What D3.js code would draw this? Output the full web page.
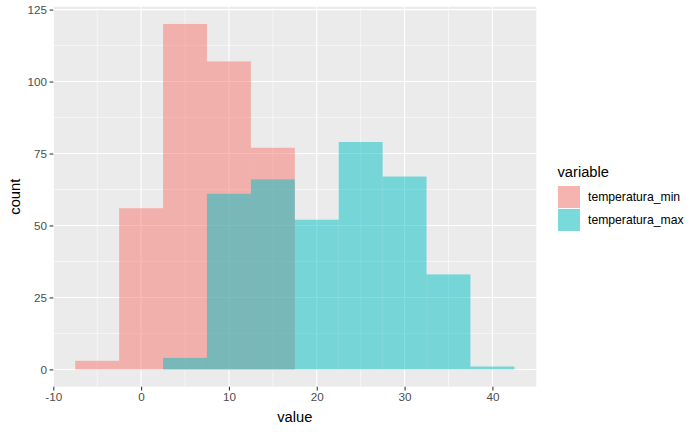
<!DOCTYPE html>
<html><head><meta charset="utf-8">
<script src="https://cdn.jsdelivr.net/npm/d3@7"></script>
<style>body{margin:0;background:#fff}svg{display:block}text{font-family:"Liberation Sans",Arial,sans-serif}</style>
</head><body>
<svg id="chart" width="700" height="432"></svg>
<script>
const minCenters = [-5, 0, 5, 10, 15];
const minCounts = [3, 56, 120, 107, 77];
const maxCenters = [5, 10, 15, 20, 25, 30, 35, 40];
const maxCounts = [4, 61, 66, 52, 79, 67, 33, 1];
const xTicks = [-10, 0, 10, 20, 30, 40];
const xMinor = [-5, 5, 15, 25, 35];
const yTicks = [0, 25, 50, 75, 100, 125];
const yMinor = [12.5, 37.5, 62.5, 87.5, 112.5];
const seriesNames = ["temperatura_min", "temperatura_max"];
const seriesColors = ["#F8766D", "#00BFC4"];
const binWidth = 5;

const svg = d3.select("#chart");
const L = 53.3, R = 536.3, T = 6.7, B = 386.7;
const x = d3.scaleLinear().domain([-10, 45]).range([L, R]);
const y = d3.scaleLinear().domain([-6, 126]).range([B, T]);

svg.append("rect").attr("x", L).attr("y", T).attr("width", R - L).attr("height", B - T).attr("fill", "#EBEBEB");
const g = svg.append("g");
xMinor.forEach(v => g.append("line").attr("x1", x(v)).attr("x2", x(v)).attr("y1", T).attr("y2", B).attr("stroke", "#fff").attr("stroke-width", 0.55));
yMinor.forEach(v => g.append("line").attr("y1", y(v)).attr("y2", y(v)).attr("x1", L).attr("x2", R).attr("stroke", "#fff").attr("stroke-width", 0.55));
xTicks.forEach(v => g.append("line").attr("x1", x(v)).attr("x2", x(v)).attr("y1", T).attr("y2", B).attr("stroke", "#fff").attr("stroke-width", 1.1));
yTicks.forEach(v => g.append("line").attr("y1", y(v)).attr("y2", y(v)).attr("x1", L).attr("x2", R).attr("stroke", "#fff").attr("stroke-width", 1.1));

const series = [
  {name: seriesNames[0], color: seriesColors[0], data: minCenters.map((c, i) => ({c, n: minCounts[i]}))},
  {name: seriesNames[1], color: seriesColors[1], data: maxCenters.map((c, i) => ({c, n: maxCounts[i]}))}
];
series.forEach(s => {
  svg.append("g").selectAll("rect").data(s.data).join("rect")
    .attr("x", d => x(d.c - binWidth / 2))
    .attr("width", d => x(d.c + binWidth / 2) - x(d.c - binWidth / 2))
    .attr("y", d => y(d.n))
    .attr("height", d => y(0) - y(d.n))
    .attr("fill", s.color).attr("fill-opacity", 0.5);
});

// axes
const xAxis = svg.append("g").attr("transform", `translate(0,${B})`)
  .call(d3.axisBottom(x).tickValues(xTicks).tickFormat(d => String(d)).tickSize(3.7).tickPadding(2.5));
const yAxis = svg.append("g").attr("transform", `translate(${L},0)`)
  .call(d3.axisLeft(y).tickValues(yTicks).tickFormat(d => String(d)).tickSize(3.7).tickPadding(2.5));
[xAxis, yAxis].forEach(a => {
  a.select(".domain").remove();
  a.selectAll(".tick line").attr("stroke", "#333").attr("stroke-width", 1.07);
  a.selectAll(".tick text").attr("fill", "#4D4D4D").style("font-size", "11.7px").style("font-family", "Liberation Sans, Arial, sans-serif");
});

svg.append("text").attr("x", (L + R) / 2).attr("y", 421.5).attr("text-anchor", "middle")
  .style("font-size", "14.7px").attr("fill", "#000").text("value");
svg.append("text").attr("transform", `translate(20,${(T + B) / 2}) rotate(-90)`).attr("text-anchor", "middle")
  .style("font-size", "14.7px").attr("fill", "#000").text("count");

// legend
const lg = svg.append("g");
lg.append("text").attr("x", 557.5).attr("y", 177).style("font-size", "14.7px").attr("fill", "#000").text("variable");
series.forEach((s, i) => {
  const ky = 185.5 + i * 23;
  lg.append("rect").attr("x", 557.5).attr("y", ky).attr("width", 23).attr("height", 23).attr("fill", "#F2F2F2").attr("stroke", "#fff").attr("stroke-width", 1);
  lg.append("rect").attr("x", 558).attr("y", ky + 0.5).attr("width", 22).attr("height", 22).attr("fill", s.color).attr("fill-opacity", 0.5);
  lg.append("text").attr("x", 588).attr("y", ky + 11.5).attr("dy", "0.35em").style("font-size", "12.2px").attr("fill", "#000").text(s.name);
});
</script>
</body></html>
